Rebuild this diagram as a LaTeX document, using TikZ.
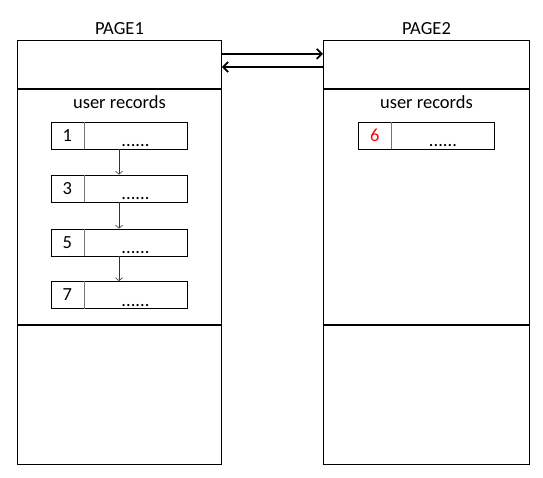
\documentclass[tikz,border=0pt]{standalone}
\usepackage{fontspec}
\setmainfont{Carlito}
\usetikzlibrary{positioning,arrows.meta}

\tikzset{
  sect/.style={draw, line width=0.9pt, inner sep=0pt, anchor=north west},
  rec/.style={draw, line width=0.8pt, minimum width=136pt, minimum height=27pt, inner sep=0pt},
  key/.style={minimum width=33pt, minimum height=27pt, inner sep=0pt, anchor=west},
  next/.style={line width=0.6pt, black!80, -{Straight Barb[length=3pt,width=7pt]}},
  link/.style={line width=1.8pt, -{Straight Barb[length=5pt,width=10pt]}}
}

\begin{document}
\begin{tikzpicture}[x=1pt, y=-1pt, font=\fontsize{18.5}{22}\selectfont]
  \useasboundingbox (0,0) rectangle (543,477);

  % page 1
  \node[sect, minimum width=204pt, minimum height=48pt] (p1head) at (17,40) {};
  \node[sect, minimum width=204pt, minimum height=235pt] (p1rec) at (p1head.south west) {};
  \node[sect, minimum width=204pt, minimum height=139pt] (p1free) at (p1rec.south west) {};
  \node[above=2pt of p1head] (t1) {PAGE1};
  \node[below=3pt of p1rec.north] (u1) {user records};

  % page 2
  \node[sect, minimum width=206pt, minimum height=48pt] (p2head) at (323,40) {};
  \node[sect, minimum width=206pt, minimum height=235pt] (p2rec) at (p2head.south west) {};
  \node[sect, minimum width=206pt, minimum height=139pt] (p2free) at (p2rec.south west) {};
  \node[above=2pt of p2head] (t2) {PAGE2};
  \node[below=3pt of p2rec.north] (u2) {user records};

  % records
  \foreach \n/\x/\y/\c in {1/119/135.5/black, 3/119/188.5/black, 5/119/242.5/black, 7/119/295/black, 6/426.5/135.5/red} {
    \node[rec] (r\n) at (\x,\y) {};
    \node[key, text=\c] (k\n) at (r\n.west) {\n};
    \draw[black!55, line width=0.8pt] (k\n.north east) -- (k\n.south east);
    \node[anchor=base, xshift=16.5pt, yshift=-11pt] (d\n) at (r\n.center) {......};
  }
  \foreach \a/\b in {1/3, 3/5, 5/7}
    \draw[next] (r\a) -- (r\b);

  % prev / next page
  \draw[link] ([yshift=10.5pt]p1head.east) -- ([yshift=10.5pt]p2head.west);
  \draw[link] ([yshift=-2.5pt]p2head.west) -- ([yshift=-2.5pt]p1head.east);
\end{tikzpicture}
\end{document}
